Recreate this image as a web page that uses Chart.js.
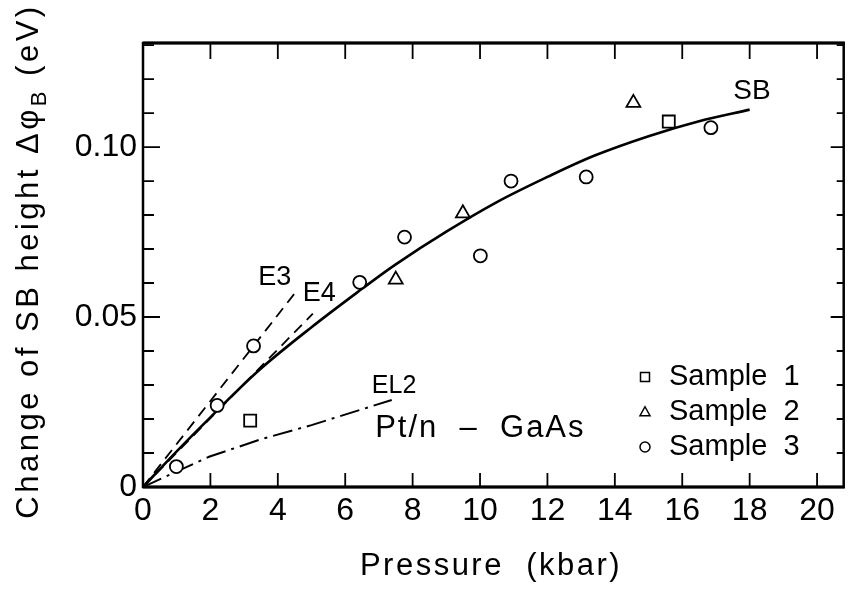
<!DOCTYPE html>
<html>
<head>
<meta charset="utf-8">
<script src="https://cdn.jsdelivr.net/npm/chart.js@4.4.1/dist/chart.umd.min.js"></script>
<style>
  html, body { margin: 0; padding: 0; background: #fff; }
  canvas { display: block; }
</style>
</head>
<body>
<canvas id="chart" width="855" height="594"></canvas>
<script>
// Measured points (pressure in kbar, barrier change in eV)
const sample1X = [3.18, 15.6];
const sample1Y = [0.0195, 0.1075];
const sample2X = [7.5, 9.49, 14.55];
const sample2Y = [0.061, 0.0805, 0.113];
const sample3X = [0.99, 2.2, 3.28, 6.43, 7.76, 10.01, 10.92, 13.15, 16.85];
const sample3Y = [0.006, 0.024, 0.0415, 0.0602, 0.0735, 0.068, 0.090, 0.0912, 0.1057];

// Fitted SB curve and the deep-level lines
const sbX = [0, 1, 2, 3.4, 5, 6.5, 7.5, 9, 10.5, 12, 13.4, 15, 16.5, 18];
const sbY = [0, 0.0105, 0.0205, 0.034, 0.047, 0.0583, 0.0655, 0.0751, 0.0838, 0.0912, 0.0975, 0.1032, 0.1076, 0.111];
const e3X = [0, 4.6];
const e3Y = [0, 0.0582];
const e4X = [0, 5.04];
const e4Y = [0, 0.051];
const el2X = [0, 1.96, 3.52, 5.0, 7.38];
const el2Y = [0, 0.0089, 0.0141, 0.0182, 0.0256];

// Axis ticks
const xTickValues = [0, 2, 4, 6, 8, 10, 12, 14, 16, 18, 20];
const yMinorTicks = [0.01, 0.02, 0.03, 0.04, 0.05, 0.06, 0.07, 0.08, 0.09, 0.10, 0.11, 0.12, 0.13];
const yMajorTicks = [0.05, 0.10];

const FONT = "'Liberation Sans', Arial, Helvetica, sans-serif";

const pts = (xs, ys) => xs.map((x, i) => ({ x, y: ys[i] }));

// Text labels placed in data coordinates
const notes = [
  { text: 'E3', x: 3.91, y: 0.0616, size: 27 },
  { text: 'E4', x: 5.23, y: 0.0569, size: 27 },
  { text: 'EL2', x: 7.45, y: 0.0296, size: 25 },
  { text: 'SB', x: 18.07, y: 0.1165, size: 28 },
  { text: 'Pt/n  \u2013  GaAs', x: 10.01, y: 0.0171, size: 31, spacing: 2 }
];

const legendItems = [
  { label: 'Sample  1', style: 'rect' },
  { label: 'Sample  2', style: 'triangle' },
  { label: 'Sample  3', style: 'circle' }
];

function drawText(ctx, text, x, y, size, spacing, align, baseline) {
  ctx.save();
  ctx.font = size + 'px ' + FONT;
  ctx.letterSpacing = (spacing || 0) + 'px';
  ctx.textAlign = align || 'center';
  ctx.textBaseline = baseline || 'middle';
  ctx.fillStyle = '#000';
  ctx.fillText(text, x, y);
  ctx.restore();
}

function marker(ctx, style, x, y, r) {
  ctx.beginPath();
  if (style === 'rect') {
    ctx.rect(x - r, y - r, 2 * r, 2 * r);
  } else if (style === 'triangle') {
    ctx.moveTo(x, y - r * 1.05);
    ctx.lineTo(x + r, y + r * 0.75);
    ctx.lineTo(x - r, y + r * 0.75);
    ctx.closePath();
  } else {
    ctx.arc(x, y, r, 0, Math.PI * 2);
  }
  ctx.fill();
  ctx.stroke();
}

const framePlugin = {
  id: 'frame',
  afterDraw(chart) {
    const { ctx, chartArea: a, scales } = chart;
    const xs = scales.x, ys = scales.y;
    ctx.save();
    ctx.strokeStyle = '#000';
    ctx.lineCap = 'butt';

    // frame
    ctx.lineWidth = 2.5;
    ctx.strokeRect(a.left, a.top, a.right - a.left - 1, a.bottom - a.top);
    ctx.lineWidth = 3;
    ctx.beginPath();
    ctx.moveTo(a.left, a.bottom);
    ctx.lineTo(a.right, a.bottom);
    ctx.moveTo(a.left, a.top);
    ctx.lineTo(a.right, a.top);
    ctx.stroke();

    // inward ticks
    ctx.lineWidth = 1.8;
    ctx.beginPath();
    xTickValues.forEach(v => {
      if (v === 0) return;
      const px = xs.getPixelForValue(v);
      ctx.moveTo(px, a.bottom);
      ctx.lineTo(px, a.bottom - 14);
      ctx.moveTo(px, a.top);
      ctx.lineTo(px, a.top + 16);
    });
    yMinorTicks.forEach(v => {
      const py = ys.getPixelForValue(v);
      const major = yMajorTicks.some(m => Math.abs(m - v) < 1e-6);
      ctx.moveTo(a.left, py);
      ctx.lineTo(a.left + (major ? 17 : 11), py);
      ctx.moveTo(a.right - 1, py);
      ctx.lineTo(a.right - 1 - (major ? 13 : 7), py);
    });
    ctx.stroke();
    ctx.restore();

    // annotations
    notes.forEach(n => {
      drawText(ctx, n.text, xs.getPixelForValue(n.x), ys.getPixelForValue(n.y), n.size, n.spacing || 0);
    });

    // legend
    ctx.save();
    ctx.strokeStyle = '#000';
    ctx.lineWidth = 1.5;
    const legX = 645, legY = 377, legStep = 35;
    legendItems.forEach((it, i) => {
      const y = legY + i * legStep;
      ctx.fillStyle = '#fff';
      marker(ctx, it.style, legX, y, it.style === 'rect' ? 4.5 : 5);
      drawText(ctx, it.label, legX + 24, y, 29, 0, 'left', 'middle');
    });
    ctx.restore();

    // x title
    drawText(ctx, 'Pressure  (kbar)', 491, 575, 31, 2.5, 'center', 'alphabetic');

    // y title (rotated, with subscript)
    ctx.save();
    ctx.translate(38, 261);
    ctx.rotate(-Math.PI / 2);
    ctx.fillStyle = '#000';
    ctx.textBaseline = 'alphabetic';
    ctx.textAlign = 'left';
    ctx.letterSpacing = '3.5px';
    const parts = [
      { t: 'Change of SB height \u0394\u03c6', size: 31, dy: 0 },
      { t: 'B', size: 22, dy: 8 },
      { t: ' (eV)', size: 31, dy: 0 }
    ];
    let total = 0;
    parts.forEach(p => { ctx.font = p.size + 'px ' + FONT; p.w = ctx.measureText(p.t).width; total += p.w; });
    let cx = -total / 2;
    parts.forEach(p => {
      ctx.font = p.size + 'px ' + FONT;
      ctx.fillText(p.t, cx, p.dy);
      cx += p.w;
    });
    ctx.restore();
  }
};

const lineBase = {
  showLine: true,
  pointRadius: 0,
  borderColor: '#000',
  fill: false
};

const markerBase = {
  showLine: false,
  borderColor: '#000',
  backgroundColor: '#fff',
  borderWidth: 1.8
};

new Chart(document.getElementById('chart'), {
  type: 'scatter',
  data: {
    datasets: [
      { ...markerBase, label: 'Sample 1', data: pts(sample1X, sample1Y), pointStyle: 'rect', pointRadius: 8.5 },
      { ...markerBase, label: 'Sample 2', data: pts(sample2X, sample2Y), pointStyle: 'triangle', pointRadius: 8 },
      { ...markerBase, label: 'Sample 3', data: pts(sample3X, sample3Y), pointStyle: 'circle', pointRadius: 6.5 },
      { ...lineBase, label: 'SB', data: pts(sbX, sbY), borderWidth: 2.6, tension: 0.35 },
      { ...lineBase, label: 'E3', data: pts(e3X, e3Y), borderWidth: 1.8, borderDash: [11, 7] },
      { ...lineBase, label: 'E4', data: pts(e4X, e4Y), borderWidth: 1.8, borderDash: [11, 7] },
      { ...lineBase, label: 'EL2', data: pts(el2X, el2Y), borderWidth: 2, borderDash: [20, 6, 3, 6] }
    ]
  },
  options: {
    responsive: false,
    animation: false,
    devicePixelRatio: 1,
    layout: { padding: { top: 43, right: 1, left: 0, bottom: 0 } },
    plugins: { legend: { display: false }, tooltip: { enabled: false } },
    scales: {
      x: {
        type: 'linear',
        min: 0,
        max: 20.82,
        grid: { display: false, drawTicks: false },
        border: { display: false },
        ticks: {
          stepSize: 2,
          includeBounds: false,
          padding: 5,
          color: '#000',
          font: { family: FONT, size: 32 },
          callback: v => String(v)
        },
        afterFit: s => { s.height = 107; }
      },
      y: {
        type: 'linear',
        min: 0,
        max: 0.1306,
        grid: { display: false, drawTicks: false },
        border: { display: false },
        ticks: {
          stepSize: 0.05,
          includeBounds: false,
          padding: 6,
          color: '#000',
          font: { family: FONT, size: 32 },
          callback: v => (v === 0 ? '0' : v.toFixed(2))
        },
        afterFit: s => { s.width = 143; }
      }
    }
  },
  plugins: [framePlugin]
});
</script>
</body>
</html>
